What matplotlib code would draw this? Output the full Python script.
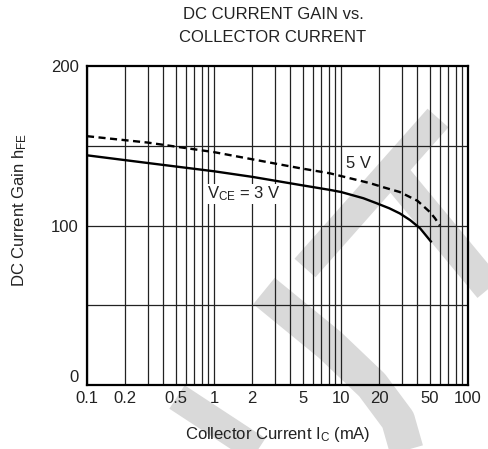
import matplotlib
matplotlib.use("Agg")
import matplotlib.pyplot as plt
from matplotlib.lines import Line2D
from matplotlib.ticker import FixedLocator, FixedFormatter, NullFormatter

plt.rcParams['font.family'] = ['Liberation Sans', 'DejaVu Sans']
plt.rcParams['mathtext.default'] = 'regular'
plt.rcParams['text.color'] = '#222222'
plt.rcParams['xtick.labelcolor'] = '#222222'
plt.rcParams['ytick.labelcolor'] = '#222222'

# data
ic_3v = [0.1, 0.3, 1.0, 2.0, 4.7, 8.2, 10, 15, 19, 24, 29, 35, 42, 51]
hfe_3v = [144, 139.2, 134, 130.5, 125.5, 122.3, 121, 117.1, 114, 110.8, 107.6, 103.4, 98.2, 90]
ic_5v = [0.1, 0.3, 1.0, 4.7, 8.2, 11.8, 17, 21.5, 29, 40, 50, 55, 60]
hfe_5v = [156, 152, 146, 136, 132.7, 129.6, 126.5, 124, 121, 115.5, 108.5, 104.5, 100]

xticks = [0.1, 0.2, 0.5, 1, 2, 5, 10, 20, 50, 100]
xticklabels = ['0.1', '0.2', '0.5', '1', '2', '5', '10', '20', '50', '100']
yticks = [0, 100, 200]
ygrid = [50, 100, 150]

W, H = 488, 449
FS = 12
fig = plt.figure(figsize=(W / 100, H / 100), dpi=100)
fig.patch.set_facecolor('white')

# light grey watermark strokes behind the chart (pixel coords, y down)
wm = [
    ([438, 305], [118, 268], 28),
    ([396, 492], [176, 292], 30),
    ([264, 330, 372, 398, 408], [291, 345, 385, 420, 455], 34),
    ([177, 270], [397, 458], 28),
]
for xs, ys, w in wm:
    fig.add_artist(Line2D([x / W for x in xs], [1 - y / H for y in ys],
                          color='#d9d9d9', lw=w * 0.72, solid_capstyle='butt',
                          zorder=0))

ax = fig.add_axes([87 / W, 1 - 385 / H, (468 - 87) / W, (385 - 66) / H])
ax.set_facecolor('none')
ax.set_xscale('log')
ax.set_xlim(0.1, 100)
ax.set_ylim(0, 200)

ax.xaxis.set_major_locator(FixedLocator(xticks))
ax.xaxis.set_major_formatter(FixedFormatter(xticklabels))
minors = [m * 10.0 ** e for e in range(-1, 2) for m in range(1, 10)]
ax.xaxis.set_minor_locator(FixedLocator(minors))
ax.xaxis.set_minor_formatter(NullFormatter())
ax.set_yticks(yticks)

for v in minors:
    ax.axvline(v, color='#222222', lw=0.9, zorder=1)
for v in ygrid:
    ax.axhline(v, color='#222222', lw=0.9, zorder=1)

ax.plot(ic_3v, hfe_3v, color='black', lw=1.7, zorder=3)
ax.plot(ic_5v, hfe_5v, color='black', lw=1.7, ls=(0, (3.0, 1.9)), zorder=3)

ax.text(0.88, 120, r'V$_{CE}$ = 3 V', fontsize=FS, va='center', ha='left',
        bbox=dict(facecolor='white', edgecolor='none', pad=0.5), zorder=4)
ax.text(11, 139, '5 V', fontsize=FS, va='center', ha='left', zorder=4)

ax.tick_params(which='both', length=0, labelsize=FS)
ax.tick_params(axis='x', pad=4)
ax.tick_params(axis='y', pad=6)
ax.yaxis.get_major_ticks()[0].label1.set_verticalalignment('bottom')
for s in ax.spines.values():
    s.set_linewidth(1.6)
    s.set_zorder(5)

fig.text(278 / W, 1 - 434 / H, 'Collector Current I$_{C}$ (mA)',
         ha='center', va='center', fontsize=FS)
fig.text(19.5 / W, 1 - 210 / H, 'DC Current Gain h$_{FE}$', rotation=90,
         ha='center', va='center', fontsize=FS)
fig.text(273 / W, 1 - 14.5 / H, 'DC CURRENT GAIN vs.',
         ha='center', va='center', fontsize=FS)
fig.text(273 / W, 1 - 38 / H, 'COLLECTOR CURRENT',
         ha='center', va='center', fontsize=FS)

fig.savefig('out.png', dpi=100)
